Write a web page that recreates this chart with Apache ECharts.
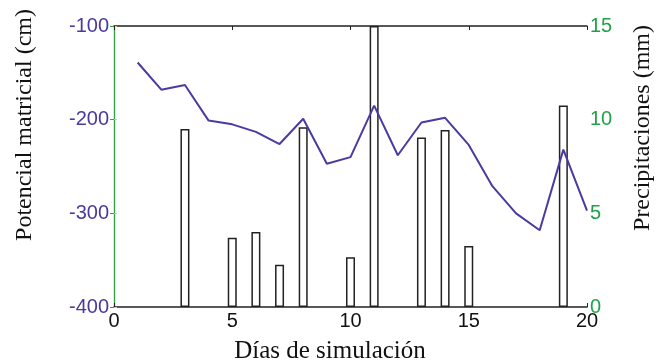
<!DOCTYPE html>
<html>
<head>
<meta charset="utf-8">
<script src="https://cdn.jsdelivr.net/npm/echarts@6/dist/echarts.min.js"></script>
<style>html,body{margin:0;padding:0;background:#fff}#c{width:667px;height:362px}</style>
</head>
<body>
<div id="c"></div>
<script>
const days = [1,2,3,4,5,6,7,8,9,10,11,12,13,14,15,16,17,18,19,20];
const potencial = [-139,-168,-163,-201,-205,-213,-226,-199,-247,-240,-185,-238,-203,-198,-227,-271,-300,-318,-232,-297];
const precip = [0,0,9.5,0,3.7,4.0,2.25,9.6,0,2.65,15,0,9.05,9.45,3.25,0,0,0,10.75,0];
const xTitle = 'Días de simulación';
const leftTitle = 'Potencial matricial (cm)';
const rightTitle = 'Precipitaciones (mm)';

const chart = echarts.init(document.getElementById('c'));
const barData = days.map((d,i)=> precip[i] > 0 ? [d, precip[i]] : [d, '-']);
const lineData = days.map((d,i)=> [d, potencial[i]]);
const tickFont = {fontFamily:'Liberation Sans, Arial, sans-serif', fontSize:20};
const serif = 'Liberation Serif, Times New Roman, serif';

chart.setOption({
  backgroundColor:'#fff',
  animation:false,
  grid:{left:114, right:80, top:26, bottom:55},
  graphic:[
    {type:'text', x:25, y:125, rotation:Math.PI/2,
     style:{text:leftTitle, font:'24px ' + serif, fill:'#111', textAlign:'center', textVerticalAlign:'middle'}},
    {type:'text', x:643, y:128, rotation:Math.PI/2,
     style:{text:rightTitle, font:'24px ' + serif, fill:'#111', textAlign:'center', textVerticalAlign:'middle'}},
    {type:'text', x:330, y:351,
     style:{text:xTitle, font:'25px ' + serif, fill:'#111', textAlign:'center', textVerticalAlign:'middle'}}
  ],
  xAxis:[{
    type:'value', min:0, max:20, interval:5, position:'bottom',
    axisLine:{lineStyle:{color:'#222', width:1.5}},
    axisTick:{inside:true, length:4, lineStyle:{color:'#222'}},
    axisLabel:Object.assign({color:'#111', margin:4}, tickFont),
    splitLine:{show:false}
  },{
    type:'value', min:0, max:20, interval:5, position:'top',
    axisLine:{lineStyle:{color:'#222', width:1.5}},
    axisTick:{inside:true, length:4, lineStyle:{color:'#222'}},
    axisLabel:{show:false}, splitLine:{show:false}
  }],
  yAxis:[{
    type:'value', min:-400, max:-100, interval:100, position:'left',
    axisLine:{show:true, lineStyle:{color:'#5cb86a', width:1.2}},
    axisTick:{inside:true, length:3, lineStyle:{color:'#d8c878'}},
    axisLabel:Object.assign({color:'#4b3a9c', margin:5}, tickFont),
    splitLine:{show:false}
  },{
    type:'value', min:0, max:15, interval:5, position:'right',
    axisLine:{show:true, lineStyle:{color:'#2fa04a', width:1.2}},
    axisTick:{inside:true, length:4, lineStyle:{color:'#2fa04a'}},
    axisLabel:Object.assign({color:'#22a04a', margin:3}, tickFont),
    splitLine:{show:false}
  }],
  series:[{
    type:'bar', xAxisIndex:0, yAxisIndex:1, data:barData, barWidth:9,
    itemStyle:{color:'#fff', borderColor:'#222', borderWidth:1.5},
    clip:true
  },{
    type:'line', xAxisIndex:0, yAxisIndex:0, data:lineData, symbol:'none',
    lineStyle:{color:'#4b3aa0', width:2}, z:5
  }]
});
</script>
</body>
</html>
